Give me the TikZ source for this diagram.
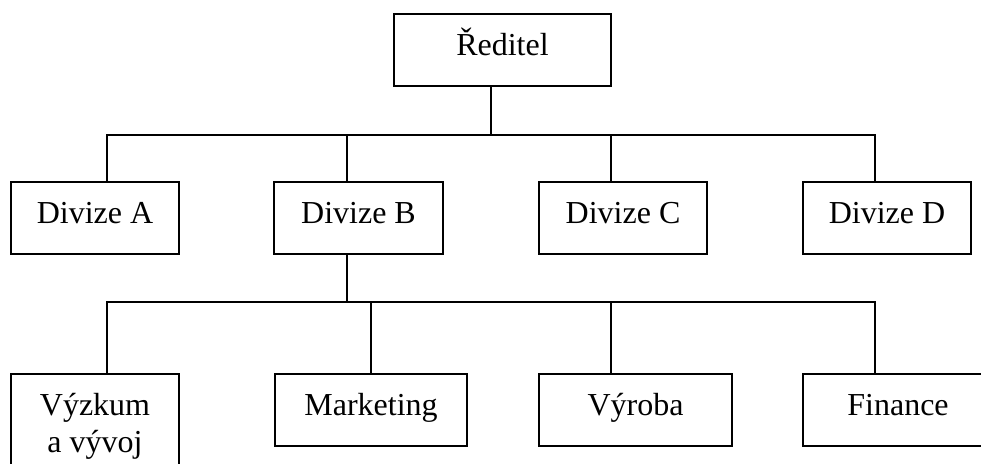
\documentclass[tikz,border=0pt]{standalone}
\usepackage{fontspec}
\setmainfont{Liberation Serif}
\begin{document}
\begin{tikzpicture}[x=1pt,y=-1pt,
  box/.style={draw, line width=1.4pt, inner sep=0pt,
    minimum height=72pt, text height=41pt, text depth=31pt,
    font=\fontsize{32}{37}\selectfont},
  link/.style={draw, line width=1.4pt}]
\useasboundingbox (0,0) rectangle (981,463);
\clip (0,0) rectangle (981,463);

% top level
\node[box, minimum width=217pt] (red) at (502.5,50) {Ředitel};

% divisions
\node[box, minimum width=168pt] (da) at (95,218) {Divize A};
\node[box, minimum width=169pt] (db) at (358.5,218) {Divize B};
\node[box, minimum width=168pt] (dc) at (623,218) {Divize C};
\node[box, minimum width=168pt] (dd) at (887,218) {Divize D};

% departments of division B
\node[box, minimum width=168pt, minimum height=100pt, text depth=59pt] (vv) at (95,424)
  {\begin{tabular}[t]{@{}c@{}}Výzkum\\a vývoj\end{tabular}};
\node[box, minimum width=192pt] (mk) at (371,410) {Marketing};
\node[box, minimum width=193pt] (vr) at (635.5,410) {Výroba};
\node[box, minimum width=190pt] (fi) at (898,410) {Finance};

% bus taps
\coordinate (r0) at (491,135);
\coordinate (a0) at (107,135);
\coordinate (b0) at (347,135);
\coordinate (c0) at (611,135);
\coordinate (d0) at (875,135);
\coordinate (b1) at (347,302);
\coordinate (v1) at (107,302);
\coordinate (m1) at (371,302);
\coordinate (w1) at (611,302);
\coordinate (f1) at (875,302);

% director to divisions
\draw[link] (r0 |- red.south) -- (r0);
\draw[link] (a0 |- da.north) -- (a0) -- (d0) -- (d0 |- dd.north);
\draw[link] (b0) -- (b0 |- db.north);
\draw[link] (c0) -- (c0 |- dc.north);

% division B to departments
\draw[link] (b1 |- db.south) -- (b1);
\draw[link] (v1 |- vv.north) -- (v1) -- (f1) -- (f1 |- fi.north);
\draw[link] (m1) -- (m1 |- mk.north);
\draw[link] (w1) -- (w1 |- vr.north);
\end{tikzpicture}
\end{document}
